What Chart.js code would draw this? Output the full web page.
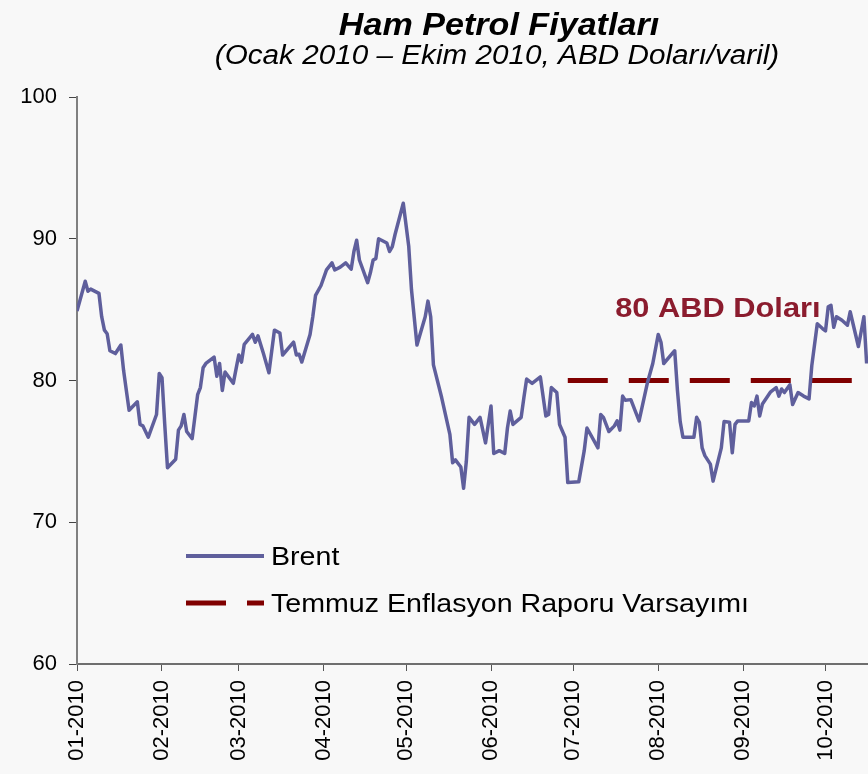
<!doctype html>
<html lang="tr">
<head>
<meta charset="utf-8">
<title>Ham Petrol Fiyatları</title>
<style>
  html, body { margin: 0; padding: 0; background: #f8f8f8; }
  canvas { display: block; }
</style>
</head>
<body>
<canvas id="petrol" width="868" height="774"></canvas>

<script src="https://cdn.jsdelivr.net/npm/chart.js"></script>
<script>
  // yılın günü (1 Ocak = 0) ve Brent fiyatı, ABD doları/varil
  const gunler = [
    0, 3, 4, 5, 8, 9, 10, 11, 12, 14, 16, 17, 18, 19, 22, 23, 24, 26, 29, 30,
    31, 32, 33, 36, 37, 38, 39, 40, 42, 44, 45, 46, 47, 50, 51, 52, 53, 54, 57, 58,
    59, 60, 61, 64, 65, 66, 68, 70, 72, 74, 75, 79, 80, 81, 82, 85, 86, 87, 89, 91,
    93, 94, 96, 98, 100, 101, 102, 103, 106, 107, 108, 109, 110, 113, 114, 115, 116, 119, 121, 122,
    124, 127, 128, 129, 130, 133, 136, 137, 138, 140, 141, 142, 143, 145, 147, 149, 151, 152, 154, 156,
    157, 158, 159, 162, 163, 164, 166, 169, 171, 172, 173, 175, 176, 178, 179, 183, 185, 186, 190, 191,
    192, 194, 196, 197, 198, 199, 200, 202, 205, 208, 210, 212, 213, 214, 218, 219, 220, 221, 225, 226,
    227, 228, 229, 231, 232, 235, 236, 238, 239, 240, 241, 245, 246, 247, 248, 249, 250, 253, 255, 256,
    257, 258, 260, 261, 263, 265, 267, 268, 270, 272, 273, 274, 275, 276, 277, 279, 281, 282, 285, 287,
    288
  ];
  const brent = [
    84.9, 87.0, 86.3, 86.45, 86.15, 84.5, 83.55, 83.3, 82.1, 81.9, 82.5, 80.7, 79.3, 77.9, 78.5, 76.9, 76.8, 76.0, 77.6, 80.5,
    80.2, 76.9, 73.85, 74.45, 76.5, 76.8, 77.6, 76.4, 75.9, 79.0, 79.5, 80.9, 81.2, 81.65, 80.3, 81.2, 79.3, 80.6, 79.8, 80.8,
    81.8, 81.3, 82.55, 83.25, 82.7, 83.15, 81.9, 80.55, 83.55, 83.35, 81.8, 82.7, 81.8, 81.85, 81.3, 83.25, 84.5, 86.0, 86.7, 87.8,
    88.3, 87.8, 88.0, 88.3, 87.85, 89.1, 89.9, 88.5, 86.9, 87.6, 88.5, 88.6, 90.0, 89.7, 89.1, 89.45, 90.3, 92.5, 89.45, 86.4,
    82.5, 84.5, 85.6, 84.5, 81.1, 78.8, 76.2, 74.2, 74.4, 73.9, 72.4, 74.3, 77.4, 76.9, 77.4, 75.6, 78.2, 74.85, 75.05, 74.85,
    76.65, 77.85, 76.9, 77.4, 78.8, 80.1, 79.8, 80.25, 77.5, 77.6, 79.5, 79.15, 76.9, 76.0, 72.8, 72.85, 75.05, 76.65, 75.25, 77.6,
    77.4, 76.4, 76.8, 77.15, 76.5, 78.9, 78.6, 78.65, 77.15, 79.8, 81.2, 83.25, 82.7, 81.2, 82.1, 79.3, 77.1, 76.0, 76.0, 77.4,
    77.05, 75.25, 74.7, 74.1, 72.9, 75.25, 77.1, 77.05, 74.9, 76.9, 77.15, 77.15, 78.45, 78.2, 78.9, 77.5, 78.35, 79.2, 79.5, 78.9,
    79.4, 79.15, 79.7, 78.3, 79.15, 78.9, 78.7, 81.05, 84.0, 83.65, 83.5, 85.2, 85.3, 83.75, 84.5, 84.25, 83.9, 84.85, 82.4, 84.5,
    81.2
  ];

  // temmuz raporundaki varsayım: 80 dolar
  const varsayimGun = [179, 288.5];
  const varsayimDeger = [80, 80];

  const ayBaslari = [0, 31, 59, 90, 120, 151, 181, 212, 243, 273];
  const ayEtiketleri = ['01-2010', '02-2010', '03-2010', '04-2010', '05-2010',
                        '06-2010', '07-2010', '08-2010', '09-2010', '10-2010'];
  const yTikler = [60, 70, 80, 90, 100];

  const baslik = 'Ham Petrol Fiyatları';
  const altBaslik = '(Ocak 2010 – Ekim 2010, ABD Doları/varil)';
  const notMetni = '80 ABD Doları';

  const YAZI = '"Liberation Sans", Arial, sans-serif';
  const SIKLIK = 1.1; // metinler biraz geniş

  function yaz(ctx, text, x, y, font, color, align) {
    ctx.save();
    ctx.translate(x, y);
    ctx.scale(SIKLIK, 1);
    ctx.font = font;
    ctx.fillStyle = color;
    ctx.textAlign = align;
    ctx.textBaseline = 'alphabetic';
    ctx.fillText(text, 0, 0);
    ctx.restore();
  }

  const arkaPlan = {
    id: 'arkaPlan',
    beforeDraw(chart) {
      const ctx = chart.ctx;
      ctx.save();
      ctx.fillStyle = '#f8f8f8';
      ctx.fillRect(0, 0, chart.width, chart.height);
      ctx.restore();
    }
  };

  // başlıklar, gösterge ve 80 dolar notu
  const yazilar = {
    id: 'yazilar',
    afterDraw(chart) {
      const ctx = chart.ctx;
      const area = chart.chartArea;
      const xs = chart.scales.x, ys = chart.scales.y;

      yaz(ctx, baslik, 499, 35, 'italic bold 31px ' + YAZI, '#000', 'center');
      yaz(ctx, altBaslik, 497, 64, 'italic 27px ' + YAZI, '#000', 'center');

      // 80 dolar notu, kesikli çizginin ortasında
      const x1 = xs.getPixelForValue(varsayimGun[0]);
      const x2 = Math.min(xs.getPixelForValue(varsayimGun[1]), area.right);
      yaz(ctx, notMetni, (x1 + x2) / 2, ys.getPixelForValue(80) - 64,
          'bold 28px ' + YAZI, '#8b1c2e', 'center');

      // gösterge
      const sets = chart.data.datasets;
      const lx = area.left + 109;
      const rows = [area.bottom - 108, area.bottom - 61];
      sets.forEach((ds, i) => {
        const y = rows[i];
        ctx.save();
        ctx.strokeStyle = ds.borderColor;
        ctx.lineWidth = i === 0 ? 4 : ds.borderWidth;
        ctx.setLineDash(ds.borderDash || []);
        ctx.beginPath();
        ctx.moveTo(lx, y);
        ctx.lineTo(lx + 78, y);
        ctx.stroke();
        ctx.restore();
        yaz(ctx, ds.label, lx + 85, y + 9, '26px ' + YAZI, '#000', 'left');
      });
    }
  };

  new Chart(document.getElementById('petrol'), {
    type: 'line',
    data: {
      datasets: [{
        label: 'Brent',
        data: gunler.map((g, i) => ({ x: g, y: brent[i] })),
        borderColor: '#5f5f9c',
        borderWidth: 3.5,
        borderJoinStyle: 'round',
        pointRadius: 0,
        tension: 0
      }, {
        label: 'Temmuz Enflasyon Raporu Varsayımı',
        data: varsayimGun.map((g, i) => ({ x: g, y: varsayimDeger[i] })),
        borderColor: '#800000',
        borderWidth: 5,
        borderDash: [40, 21],
        borderCapStyle: 'butt',
        pointRadius: 0
      }]
    },
    options: {
      responsive: false,
      animation: false,
      devicePixelRatio: 1,
      layout: { padding: { top: 97, left: 0, right: 0, bottom: 0 } },
      plugins: {
        legend: { display: false },
        title: { display: false },
        tooltip: { enabled: false }
      },
      scales: {
        x: {
          type: 'linear',
          min: 0,
          max: 288.5,
          afterBuildTicks: s => { s.ticks = ayBaslari.map(v => ({ value: v })); },
          afterFit: s => { s.height = 110; },
          border: { color: '#6e6e6e', width: 2 },
          grid: { drawOnChartArea: false, tickLength: 7, color: '#555', lineWidth: 1 },
          ticks: {
            autoSkip: false,
            minRotation: 90,
            maxRotation: 90,
            padding: 9,
            color: '#000',
            font: { family: YAZI, size: 22 },
            callback: v => ayEtiketleri[ayBaslari.indexOf(v)]
          }
        },
        y: {
          min: 60,
          max: 100,
          afterBuildTicks: s => { s.ticks = yTikler.map(v => ({ value: v })); },
          afterFit: s => { s.width = 77; },
          border: { color: '#808080', width: 2 },
          grid: { drawOnChartArea: false, tickLength: 8, color: '#444', lineWidth: 1 },
          ticks: {
            padding: 12,
            color: '#000',
            font: { family: YAZI, size: 22 }
          }
        }
      }
    },
    plugins: [arkaPlan, yazilar]
  });
</script>
</body>
</html>
